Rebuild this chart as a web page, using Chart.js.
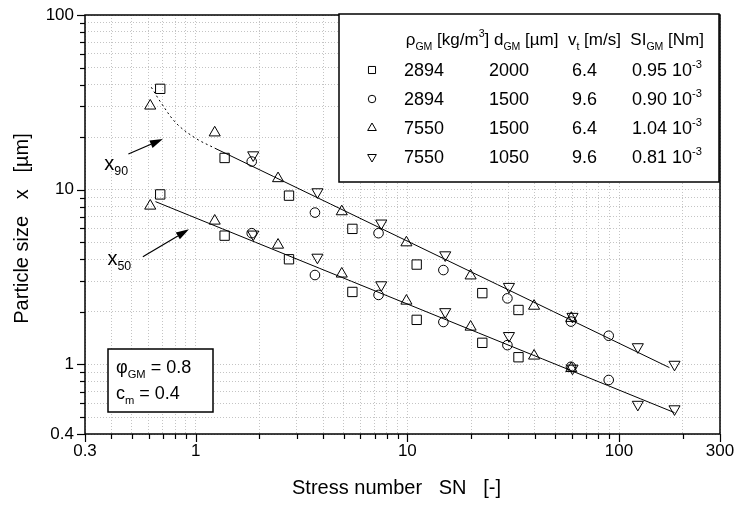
<!DOCTYPE html>
<html>
<head>
<meta charset="utf-8">
<script src="https://cdn.jsdelivr.net/npm/chart.js@4.4.0/dist/chart.umd.min.js"></script>
<style>
  html, body { margin: 0; padding: 0; background: #fff; }
  #wrap { width: 739px; height: 505px; }
</style>
</head>
<body>
<div id="wrap"><canvas id="chart" width="739" height="505"></canvas></div>
<script>
const FONT = '"Liberation Sans", Arial, Helvetica, sans-serif';

// axis ticks that carry a label
const xLabels = [0.3, 1, 10, 100, 300];
const yLabels = [0.4, 1, 10, 100];

// squares: rho 2894, d 2000
const sqSN  = [0.68, 1.37, 2.76, 5.5, 11.07, 22.6, 33.5];
const sqX90 = [37.8, 15.2, 9.25, 5.97, 3.73, 2.56, 2.05];
const sqX50 = [9.4, 5.46, 4.0, 2.6, 1.8, 1.33, 1.10];

// circles: rho 2894, d 1500
const ciSN  = [1.84, 3.66, 7.31, 14.8, 29.7, 59.3, 89.4];
const ciX90 = [14.5, 7.4, 5.64, 3.47, 2.39, 1.76, 1.46];
const ciX50 = [5.64, 3.25, 2.5, 1.75, 1.29, 0.97, 0.815];

// triangles up: rho 7550, d 1500
const tuSN  = [0.61, 1.23, 2.45, 4.9, 9.9, 19.9, 39.7, 59.5];
const tuX90 = [30.2, 21.2, 11.6, 7.5, 4.98, 3.22, 2.16, 1.84];
const tuX50 = [8.08, 6.63, 4.83, 3.3, 2.31, 1.64, 1.12, 0.95];

// triangles down: rho 7550, d 1050
const tdSN  = [1.87, 3.76, 7.53, 15.1, 30.2, 60.3, 122.7, 182.9];
const tdX90 = [15.8, 9.71, 6.43, 4.23, 2.79, 1.88, 1.26, 1.0];
const tdX50 = [5.56, 4.1, 2.85, 2.0, 1.46, 0.95, 0.59, 0.556];

// fitted lines and the dotted extension of x90
const fit90SN = [1.23, 173];
const fit90X  = [17.3, 0.96];
const fit50SN = [0.646, 183];
const fit50X  = [8.55, 0.53];
const dot90SN = [0.617, 0.688, 0.81, 1.0, 1.23];
const dot90X  = [38.6, 31.3, 24, 19.7, 17.3];

// legend table
const legRho = ['2894', '2894', '7550', '7550'];
const legD   = ['2000', '1500', '1500', '1050'];
const legV   = ['6.4', '9.6', '6.4', '9.6'];
const legSI  = ['0.95', '0.90', '1.04', '0.81'];
const legStyle = ['rect', 'circle', 'triangle', 'triangleDown'];

function pts(xs, ys) { return xs.map((x, i) => ({ x: x, y: ys[i] })); }

function logTicks(min, max) {
  const out = [];
  for (let e = -1; e <= 2; e++) {
    for (let m = 1; m <= 9; m++) {
      const v = +(m * Math.pow(10, e)).toPrecision(3);
      if (v >= min - 1e-9 && v <= max + 1e-9) out.push(v);
    }
  }
  return out;
}
const xTicks = logTicks(0.3, 300);
const yTicks = logTicks(0.4, 100);

function marker(style, rot, r) {
  return {
    type: 'scatter', data: [],
    pointStyle: style, rotation: rot, pointRadius: r, pointHoverRadius: r,
    borderColor: '#000', backgroundColor: 'rgba(0,0,0,0)', borderWidth: 1, showLine: false
  };
}
const sq = marker('rect', 0, 6.6);   sq.data = pts(sqSN, sqX90).concat(pts(sqSN, sqX50));
const ci = marker('circle', 0, 4.8); ci.data = pts(ciSN, ciX90).concat(pts(ciSN, ciX50));
const tu = marker('triangle', 0, 6.4); tu.data = pts(tuSN, tuX90).concat(pts(tuSN, tuX50));
const td = marker('triangle', 180, 6.4); td.data = pts(tdSN, tdX90).concat(pts(tdSN, tdX50));

function line(xs, ys, dash) {
  return {
    type: 'line', data: pts(xs, ys), showLine: true, pointRadius: 0,
    borderColor: '#000', borderWidth: 1, borderDash: dash, fill: false, tension: 0.35
  };
}

// sub/superscript text runs
function runs(ctx, x, y, parts, size, align) {
  let w = 0;
  const ws = parts.map(p => {
    ctx.font = (p[1] ? size * 0.62 : size) + 'px ' + FONT;
    const m = ctx.measureText(p[0]).width;
    w += m;
    return m;
  });
  let cx = align === 'right' ? x - w : align === 'center' ? x - w / 2 : x;
  ctx.textAlign = 'left';
  ctx.textBaseline = 'alphabetic';
  parts.forEach((p, i) => {
    ctx.font = (p[1] ? size * 0.62 : size) + 'px ' + FONT;
    const dy = p[1] === 'sub' ? size * 0.28 : p[1] === 'sup' ? -size * 0.45 : 0;
    ctx.fillText(p[0], cx, y + dy);
    cx += ws[i];
  });
}

function drawShape(ctx, style, x, y, r) {
  ctx.beginPath();
  if (style === 'rect') {
    const s = r * Math.SQRT1_2;
    ctx.rect(x - s, y - s, 2 * s, 2 * s);
  } else if (style === 'circle') {
    ctx.arc(x, y, r * 0.75, 0, Math.PI * 2);
  } else {
    const k = style === 'triangle' ? 1 : -1;
    ctx.moveTo(x, y - k * r);
    ctx.lineTo(x - r * 0.866, y + k * r * 0.5);
    ctx.lineTo(x + r * 0.866, y + k * r * 0.5);
    ctx.closePath();
  }
  ctx.stroke();
}

function arrow(ctx, x0, y0, x1, y1) {
  const a = Math.atan2(y1 - y0, x1 - x0);
  const L = 13, W = 4;
  const bx = x1 - L * Math.cos(a), by = y1 - L * Math.sin(a);
  ctx.beginPath();
  ctx.moveTo(x0, y0);
  ctx.lineTo(bx, by);
  ctx.stroke();
  ctx.beginPath();
  ctx.moveTo(x1, y1);
  ctx.lineTo(bx + W * Math.sin(a), by - W * Math.cos(a));
  ctx.lineTo(bx - W * Math.sin(a), by + W * Math.cos(a));
  ctx.closePath();
  ctx.fill();
}

// annotations in data coordinates: arrow tail, arrow head, label position
const notes = [
  { tail: [0.481, 16.0], head: [0.70, 19.5], label: [0.37, 13.0], sub: '90' },
  { tail: [0.563, 4.14], head: [0.93, 5.94], label: [0.383, 3.72], sub: '50' }
];

const decor = {
  id: 'decor',
  beforeDraw(chart) {
    const ctx = chart.ctx;
    ctx.save();
    ctx.fillStyle = '#fff';
    ctx.fillRect(0, 0, chart.width, chart.height);
    ctx.restore();
  },
  afterDraw(chart) {
    const ctx = chart.ctx;
    const a = chart.chartArea;
    const xs = chart.scales.x, ys = chart.scales.y;
    ctx.save();
    ctx.strokeStyle = '#000';
    ctx.fillStyle = '#000';

    // tick marks
    ctx.lineWidth = 1.2;
    xTicks.forEach(v => {
      const px = Math.round(xs.getPixelForValue(v)) + 0.5;
      const len = xLabels.includes(v) ? 8 : 5;
      ctx.beginPath(); ctx.moveTo(px, a.bottom); ctx.lineTo(px, a.bottom + len); ctx.stroke();
    });
    yTicks.forEach(v => {
      const py = Math.round(ys.getPixelForValue(v)) + 0.5;
      const len = yLabels.includes(v) ? 8 : 5;
      ctx.beginPath(); ctx.moveTo(a.left - len, py); ctx.lineTo(a.left, py); ctx.stroke();
    });

    // frame
    ctx.lineWidth = 1.5;
    ctx.strokeRect(a.left, a.top, a.right - a.left, a.bottom - a.top);

    // arrows and x90 / x50 labels
    ctx.lineWidth = 1.2;
    notes.forEach(n => {
      arrow(ctx, xs.getPixelForValue(n.tail[0]), ys.getPixelForValue(n.tail[1]),
        xs.getPixelForValue(n.head[0]), ys.getPixelForValue(n.head[1]));
      runs(ctx, xs.getPixelForValue(n.label[0]), ys.getPixelForValue(n.label[1]),
        [['x', ''], [n.sub, 'sub']], 20, 'left');
    });

    // legend table
    const L = 339, T = a.top - 1, R = a.right - 1, B = 182;
    ctx.fillStyle = '#fff';
    ctx.fillRect(L, T, R - L, B - T);
    ctx.fillStyle = '#000';
    ctx.lineWidth = 1.5;
    ctx.strokeRect(L, T, R - L, B - T);
    runs(ctx, 704, 45, [
      ['ρ', ''], ['GM', 'sub'], [' [kg/m', ''], ['3', 'sup'], ['] d', ''], ['GM', 'sub'],
      [' [µm]  v', ''], ['t', 'sub'], [' [m/s]  SI', ''], ['GM', 'sub'], [' [Nm]', '']
    ], 17, 'right');
    const rowY = [76, 105, 134, 163];
    ctx.lineWidth = 1;
    for (let i = 0; i < 4; i++) {
      const y = rowY[i];
      drawShape(ctx, legStyle[i], 372, y - 6, 5);
      runs(ctx, 424, y, [[legRho[i], '']], 18, 'center');
      runs(ctx, 509, y, [[legD[i], '']], 18, 'center');
      runs(ctx, 597, y, [[legV[i], '']], 18, 'right');
      runs(ctx, 702, y, [[legSI[i] + ' 10', ''], ['-3', 'sup']], 18, 'right');
    }

    // parameter box
    const pL = 108, pT = 349, pR = 213, pB = 412;
    ctx.fillStyle = '#fff';
    ctx.fillRect(pL, pT, pR - pL, pB - pT);
    ctx.fillStyle = '#000';
    ctx.lineWidth = 1.5;
    ctx.strokeRect(pL, pT, pR - pL, pB - pT);
    runs(ctx, 116, 373, [['φ', ''], ['GM', 'sub'], [' = 0.8', '']], 18, 'left');
    runs(ctx, 116, 399, [['c', ''], ['m', 'sub'], [' = 0.4', '']], 18, 'left');

    // axis titles
    runs(ctx, (a.left + a.right) / 2 - 6, 494, [['Stress number   SN   [-]', '']], 20, 'center');
    ctx.save();
    ctx.translate(28, (a.top + a.bottom) / 2 + 4);
    ctx.rotate(-Math.PI / 2);
    runs(ctx, 0, 0, [['Particle size   x   [µm]', '']], 20, 'center');
    ctx.restore();

    ctx.restore();
  }
};

const gridOpts = { color: '#c4c4c4', lineWidth: 1, drawTicks: false };

function noPad(s) { s.paddingTop = 0; s.paddingBottom = 0; s.paddingLeft = 0; s.paddingRight = 0; }

new Chart(document.getElementById('chart').getContext('2d'), {
  type: 'scatter',
  data: {
    datasets: [
      line(fit90SN, fit90X, []),
      line(fit50SN, fit50X, []),
      line(dot90SN, dot90X, [2, 3]),
      sq, ci, tu, td
    ]
  },
  options: {
    responsive: false,
    animation: false,
    events: [],
    layout: { padding: { top: 15, right: 19, left: 0, bottom: 0 } },
    plugins: { legend: { display: false }, tooltip: { enabled: false } },
    scales: {
      x: {
        type: 'logarithmic', min: 0.3, max: 300,
        grid: gridOpts,
        border: { display: false, dash: [1, 2] },
        afterBuildTicks: s => { s.ticks = xTicks.map(v => ({ value: v })); },
        afterFit: s => { s.height = 71; noPad(s); },
        ticks: {
          autoSkip: false, maxRotation: 0, padding: 7, color: '#000',
          font: { family: FONT, size: 17 },
          callback: v => xLabels.includes(+(+v).toPrecision(3)) ? String(+(+v).toPrecision(3)) : ''
        }
      },
      y: {
        type: 'logarithmic', min: 0.4, max: 100,
        grid: gridOpts,
        border: { display: false, dash: [1, 2] },
        afterBuildTicks: s => { s.ticks = yTicks.map(v => ({ value: v })); },
        afterFit: s => { s.width = 85; noPad(s); },
        ticks: {
          autoSkip: false, padding: 11, color: '#000',
          font: { family: FONT, size: 17 },
          callback: v => yLabels.includes(+(+v).toPrecision(3)) ? String(+(+v).toPrecision(3)) : ''
        }
      }
    }
  },
  plugins: [decor]
});
</script>
</body>
</html>
